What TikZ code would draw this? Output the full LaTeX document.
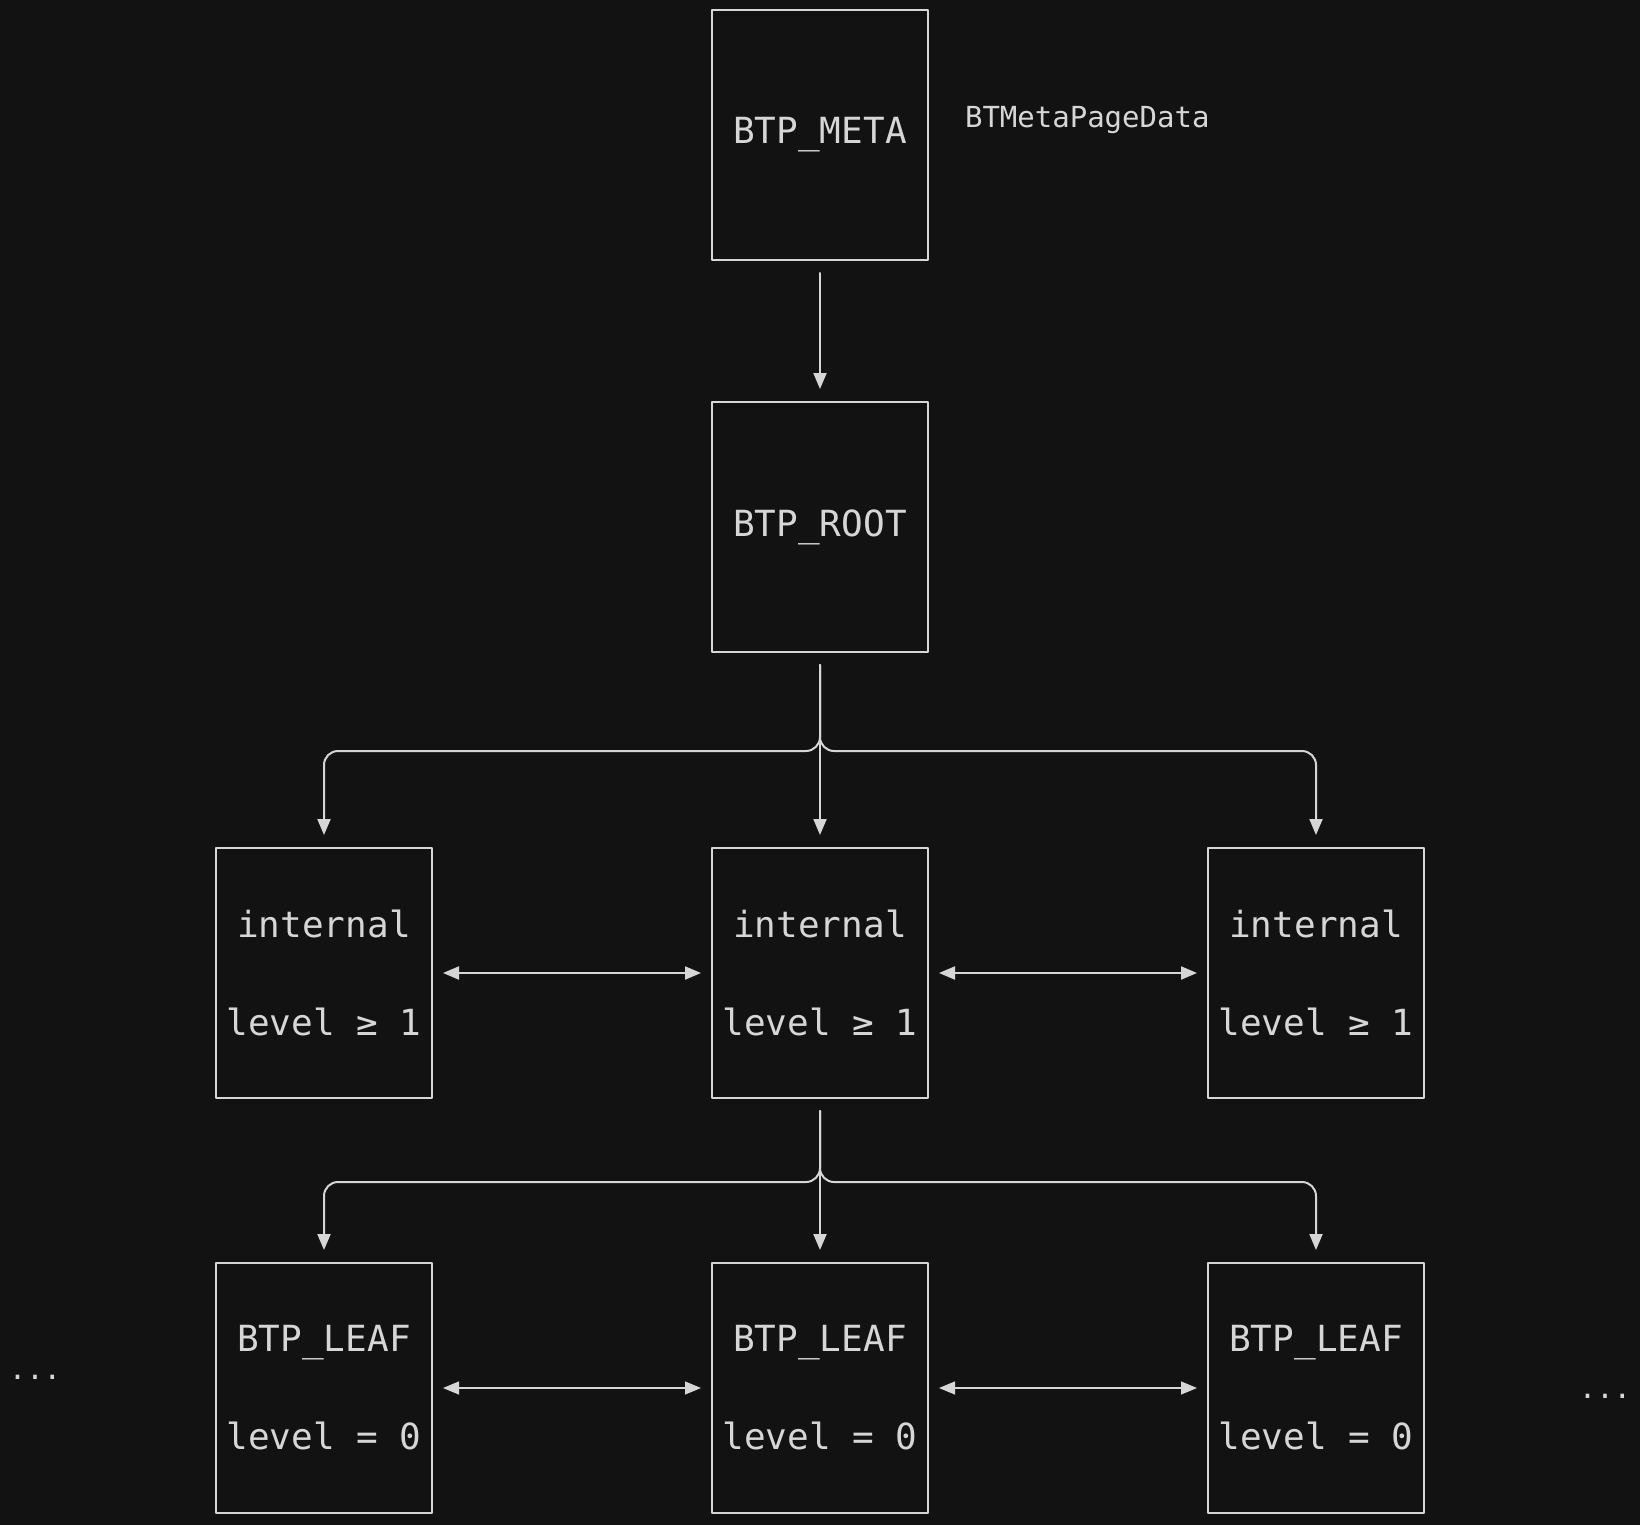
\documentclass[tikz,border=0pt]{standalone}
\usepackage{fontspec}
\setmainfont{DejaVu Sans Mono}
\usetikzlibrary{arrows.meta}
\definecolor{bgdark}{HTML}{121212}
\definecolor{inkgray}{HTML}{D6D6D6}
\begin{document}
\begin{tikzpicture}[x=0.5pt, y=-0.5pt, line cap=round, line join=round, color=inkgray, >={Triangle[length=8pt, width=6.5pt]}]
			\tikzset{page/.style={draw, line width=1pt, minimum width=108pt, minimum height=125pt, inner sep=0pt, align=center, font=\fontsize{18pt}{49pt}\selectfont},
				link/.style={->, line width=1pt, shorten <=6pt, shorten >=6pt},
				sibling/.style={<->, line width=1pt, shorten <=5pt, shorten >=5pt},
				note/.style={font=\fontsize{14.5pt}{17pt}\selectfont}}
			\fill[bgdark] (0,0) rectangle (1640,1525);
			\useasboundingbox (0,0) rectangle (1640,1525);
			\node[page] (meta) at (820,135) {BTP\_META};
			\node[note, anchor=base west] (metadata) at (958,128) {BTMetaPageData};
			\node[page] (root) at (820,527) {BTP\_ROOT};
			\node[page] (int1) at (324,973) {internal\\level ≥ 1};
			\node[page] (int2) at (820,973) {internal\\level ≥ 1};
			\node[page] (int3) at (1316,973) {internal\\level ≥ 1};
			\node[page] (leaf1) at (324,1388) {BTP\_LEAF\\level = 0};
			\node[page] (leaf2) at (820,1388) {BTP\_LEAF\\level = 0};
			\node[page] (leaf3) at (1316,1388) {BTP\_LEAF\\level = 0};
			\node[note, anchor=base] (dotsL) at (35,1379) {...};
			\node[note, anchor=base] (dotsR) at (1605,1398) {...};
			\coordinate (fork1) at (820,751);
			\coordinate (fork2) at (820,1182);
			\draw[link] (meta.south) -- (root.north);
			\draw[link, rounded corners=7pt] (root.south) -- (fork1) -| (int1.north);
			\draw[link] (root.south) -- (int2.north);
			\draw[link, rounded corners=7pt] (root.south) -- (fork1) -| (int3.north);
			\draw[sibling] (int1.east) -- (int2.west);
			\draw[sibling] (int2.east) -- (int3.west);
			\draw[link, rounded corners=7pt] (int2.south) -- (fork2) -| (leaf1.north);
			\draw[link] (int2.south) -- (leaf2.north);
			\draw[link, rounded corners=7pt] (int2.south) -- (fork2) -| (leaf3.north);
			\draw[sibling, line width=0.65pt] (leaf1.east) -- (leaf2.west);
			\draw[sibling, line width=0.65pt] (leaf2.east) -- (leaf3.west);
		\end{tikzpicture}
\end{document}
